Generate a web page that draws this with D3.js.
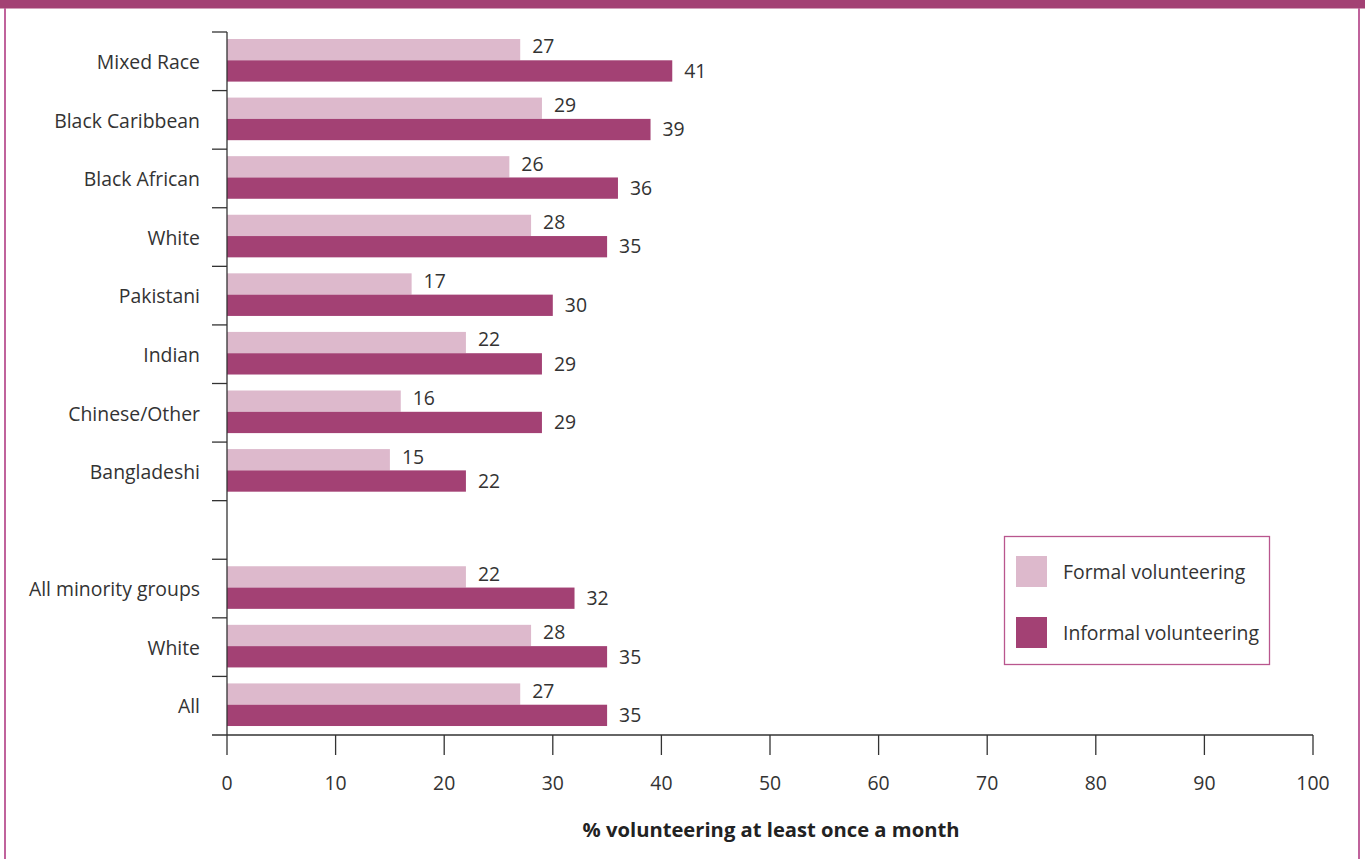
<!DOCTYPE html>
<html>
<head>
<meta charset="utf-8">
<script src="https://cdn.jsdelivr.net/npm/d3@7"></script>
<style>
html,body{margin:0;padding:0;background:#fff;}
svg{display:block;font-family:"Open Sans","Noto Sans",sans-serif;}
</style>
</head>
<body>
<svg id="chart" width="1365" height="859"></svg>
<script>
const categories = ["Mixed Race","Black Caribbean","Black African","White","Pakistani","Indian","Chinese/Other","Bangladeshi","","All minority groups","White ","All"];
const formal   = [27,29,26,28,17,22,16,15,null,22,28,27];
const informal = [41,39,36,35,30,29,29,22,null,32,35,35];
const seriesNames = ["Formal volunteering","Informal volunteering"];
const colors = ["#ddb9cc","#a34174"];
const xTicks = [0,10,20,30,40,50,60,70,80,90,100];
const xTitle = "% volunteering at least once a month";

const svg = d3.select("#chart");
const W = 1365, H = 859;

// frame
svg.append("rect").attr("x",0).attr("y",0).attr("width",W).attr("height",8.5).attr("fill","#a34174");
svg.append("line").attr("x1",5).attr("x2",5).attr("y1",8).attr("y2",H).attr("stroke","#c0639c").attr("stroke-width",2);
svg.append("line").attr("x1",1359).attr("x2",1359).attr("y1",8).attr("y2",H).attr("stroke","#c0639c").attr("stroke-width",2);

const x = d3.scaleLinear().domain([0,100]).range([227,1313]);
const y = d3.scaleBand().domain(categories.map((c,i)=>i)).range([32,735]).paddingInner(0).paddingOuter(0);
const step = y.step();
const barH = 21.3;
const offTop = 7;

const textColor = "#333";
const fs = 19.4;

// bars
categories.forEach((c,i)=>{
  if(formal[i]==null) return;
  const y0 = y(i) + offTop;
  [formal[i], informal[i]].forEach((v,k)=>{
    const yy = y0 + k*barH;
    svg.append("rect").attr("x",x(0)).attr("y",yy).attr("width",x(v)-x(0)).attr("height",barH).attr("fill",colors[k]);
    svg.append("text").attr("x",x(v)+12).attr("y",yy+barH/2 + (k===0?-3:0)).attr("dy","0.35em")
      .attr("font-size",fs).attr("fill",textColor).text(v);
  });
});

// y axis
const ax = svg.append("g");
ax.append("line").attr("x1",227).attr("x2",227).attr("y1",32).attr("y2",735).attr("stroke","#333").attr("stroke-width",1.3);
d3.range(0,categories.length).forEach(i=>{
  ax.append("line").attr("x1",212).attr("x2",227).attr("y1",y(i)).attr("y2",y(i)).attr("stroke","#333").attr("stroke-width",1.3);
});
categories.forEach((c,i)=>{
  if(!c.trim()) return;
  ax.append("text").attr("x",200).attr("y",y(i)+step/2+1).attr("dy","0.35em").attr("text-anchor","end")
    .attr("font-size",fs).attr("fill",textColor).text(c.trim());
});

// x axis
const xa = svg.append("g");
xa.append("line").attr("x1",212).attr("x2",1313).attr("y1",735).attr("y2",735).attr("stroke","#333").attr("stroke-width",1.3);
xTicks.forEach(t=>{
  xa.append("line").attr("x1",x(t)).attr("x2",x(t)).attr("y1",735).attr("y2",755).attr("stroke","#333").attr("stroke-width",1.3);
  xa.append("text").attr("x",x(t)).attr("y",783).attr("dy","0.35em").attr("text-anchor","middle")
    .attr("font-size",fs).attr("fill",textColor).text(t);
});
svg.append("text").attr("x",771).attr("y",830).attr("dy","0.35em").attr("text-anchor","middle")
  .attr("font-size",20.2).attr("font-weight","bold").attr("fill","#222").text(xTitle);

// legend
const lg = svg.append("g");
lg.append("rect").attr("x",1004.5).attr("y",536.5).attr("width",265).attr("height",128).attr("fill","#fff").attr("stroke","#b9568e").attr("stroke-width",1.3);
seriesNames.forEach((s,k)=>{
  const yy = 556 + k*61;
  lg.append("rect").attr("x",1016).attr("y",yy).attr("width",31).attr("height",31).attr("fill",colors[k]);
  lg.append("text").attr("x",1063).attr("y",yy+16).attr("dy","0.35em").attr("font-size",fs).attr("fill",textColor).text(s);
});
</script>
</body>
</html>
